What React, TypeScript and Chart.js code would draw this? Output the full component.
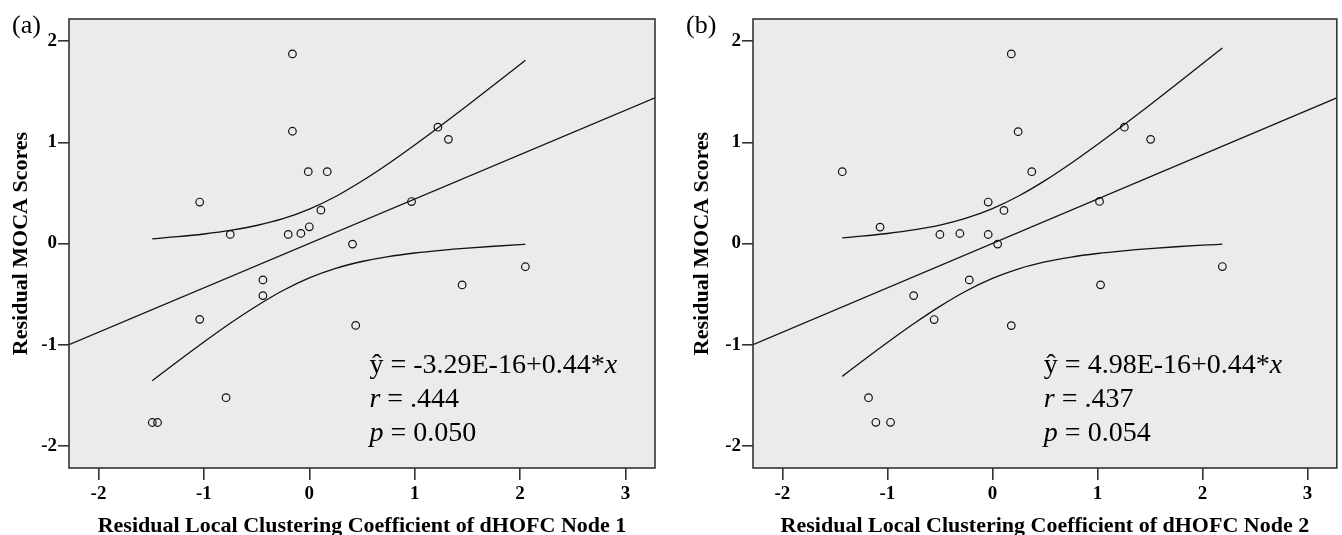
import React, { useEffect, useRef } from 'react';
import { Chart, registerables } from 'chart.js';

Chart.register(...registerables);

// ---------- data ----------
const xTicks = [-2, -1, 0, 1, 2, 3];
const yTicks = [-2, -1, 0, 1, 2];
const xRange = [-2.28, 3.28];
const yRange = [-2.22, 2.22];

// Panel (a): dHOFC Node 1
const node1X = [-0.16, -0.16, -0.01, 0.17, -1.04, 0.11, -0.75, -0.2, -0.08, 0.0, 1.22, 1.32, 0.97, 0.41, 2.05, 1.45, 0.44, -0.44, -0.44, -1.04, -0.79, -1.49, -1.44];
const node1Y = [1.875, 1.11, 0.71, 0.71, 0.41, 0.33, 0.09, 0.09, 0.1, 0.165, 1.15, 1.03, 0.415, -0.006, -0.23, -0.41, -0.81, -0.36, -0.515, -0.75, -1.525, -1.77, -1.77];

const fitX1 = [-2.28, 3.28];
const fitY1 = [-1.0, 1.44];

const ciX1 = [-1.49, -1.25, -1.0, -0.75, -0.5, -0.25, 0, 0.25, 0.5, 0.75, 1.0, 1.25, 1.5, 1.75, 2.0, 2.05];
const ciUpper1 = [0.046, 0.067, 0.094, 0.129, 0.178, 0.245, 0.34, 0.465, 0.618, 0.789, 0.974, 1.167, 1.365, 1.567, 1.771, 1.812];
const ciLower1 = [-1.357, -1.167, -0.974, -0.789, -0.618, -0.465, -0.34, -0.245, -0.178, -0.129, -0.094, -0.067, -0.045, -0.027, -0.011, -0.008];

// Panel (b): dHOFC Node 2
const node2X = [-1.43, -1.07, -0.5, -0.31, -0.04, -0.04, 0.11, 0.05, 0.18, 0.245, 0.375, 1.257, 1.507, 1.02, 2.19, 1.03, 0.18, -0.22, -0.75, -0.555, -1.18, -1.11, -0.97];
const node2Y = [0.71, 0.162, 0.089, 0.099, 0.089, 0.41, 0.327, -0.006, 1.875, 1.106, 0.71, 1.15, 1.03, 0.416, -0.228, -0.409, -0.812, -0.36, -0.515, -0.752, -1.525, -1.768, -1.768];

const fitX2 = [-2.28, 3.28];
const fitY2 = [-1.0, 1.44];

const ciX2 = [-1.43, -1.25, -1.0, -0.75, -0.5, -0.25, 0, 0.25, 0.5, 0.75, 1.0, 1.25, 1.5, 1.75, 2.0, 2.19];
const ciUpper2 = [0.056, 0.072, 0.099, 0.134, 0.182, 0.25, 0.345, 0.47, 0.622, 0.794, 0.979, 1.172, 1.37, 1.572, 1.777, 1.934];
const ciLower2 = [-1.314, -1.172, -0.979, -0.794, -0.622, -0.47, -0.345, -0.25, -0.182, -0.134, -0.099, -0.072, -0.05, -0.032, -0.017, -0.007];

const yTitle = 'Residual MOCA Scores';
const xTitle1 = 'Residual Local Clustering Coefficient of dHOFC Node 1';
const xTitle2 = 'Residual Local Clustering Coefficient of dHOFC Node 2';

const eq1 = '-3.29E-16+0.44*';
const r1 = '.444';
const p1 = ' = 0.050';
const eq2 = '4.98E-16+0.44*';
const r2 = '.437';
const p2 = '= 0.054';

// ---------- styling ----------
const SERIF = '"Liberation Serif", "Times New Roman", serif';
const PLOT_BG = '#ebebeb';
const FRAME = '#333333';

type Run = { text: string; italic?: boolean };

interface PanelSpec {
  label: string;
  xs: number[];
  ys: number[];
  fitX: number[];
  fitY: number[];
  ciX: number[];
  ciUp: number[];
  ciLo: number[];
  xTitle: string;
  annX: number;
  annY: number[];
  annLines: Run[][];
  yAxisWidth: number;
  yTitlePad: number;
  padRight: number;
  labelX: number;
}

const toPts = (xs: number[], ys: number[]) => xs.map((x, i) => ({ x, y: ys[i] }));

function buildConfig(p: PanelSpec): any {
  const panelPlugin = {
    id: 'panelDecor' + p.label,
    beforeDraw(chart: any) {
      const { ctx, chartArea: a } = chart;
      ctx.save();
      ctx.fillStyle = PLOT_BG;
      ctx.fillRect(a.left, a.top, a.right - a.left, a.bottom - a.top);
      ctx.restore();
    },
    afterDraw(chart: any) {
      const { ctx, chartArea: a, scales } = chart;
      ctx.save();
      ctx.strokeStyle = FRAME;
      ctx.lineWidth = 1.6;
      ctx.strokeRect(a.left, a.top, a.right - a.left, a.bottom - a.top);

      ctx.fillStyle = '#000';
      ctx.textBaseline = 'middle';
      ctx.textAlign = 'left';
      ctx.font = `26px ${SERIF}`;
      ctx.fillText(p.label, p.labelX, 26);

      const x0 = scales.x.getPixelForValue(p.annX);
      p.annLines.forEach((runs, i) => {
        const y = scales.y.getPixelForValue(p.annY[i]);
        let cx = x0;
        runs.forEach((r) => {
          ctx.font = `${r.italic ? 'italic ' : ''}28px ${SERIF}`;
          ctx.fillText(r.text, cx, y);
          cx += ctx.measureText(r.text).width;
        });
      });
      ctx.restore();
    },
  };

  const tickFont = { family: SERIF, size: 19, weight: 'bold' as const };
  const titleFont = { family: SERIF, size: 22, weight: 'bold' as const, lineHeight: 1.2 };

  return {
    type: 'scatter',
    data: {
      datasets: [
        {
          data: toPts(p.xs, p.ys),
          showLine: false,
          pointStyle: 'circle',
          pointRadius: 3.8,
          pointBorderWidth: 1.2,
          pointBorderColor: '#111',
          pointBackgroundColor: 'rgba(0,0,0,0)',
          order: 0,
        },
        {
          data: toPts(p.fitX, p.fitY),
          showLine: true,
          pointRadius: 0,
          borderColor: '#111',
          borderWidth: 1.3,
          order: 1,
        },
        {
          data: toPts(p.ciX, p.ciUp),
          showLine: true,
          pointRadius: 0,
          borderColor: '#111',
          borderWidth: 1.3,
          cubicInterpolationMode: 'monotone',
          order: 1,
        },
        {
          data: toPts(p.ciX, p.ciLo),
          showLine: true,
          pointRadius: 0,
          borderColor: '#111',
          borderWidth: 1.3,
          cubicInterpolationMode: 'monotone',
          order: 1,
        },
      ],
    },
    options: {
      responsive: false,
      animation: false,
      events: [],
      layout: { padding: { left: 0, right: p.padRight, top: 19, bottom: 0 } },
      plugins: {
        legend: { display: false },
        tooltip: { enabled: false },
      },
      scales: {
        x: {
          type: 'linear',
          min: xRange[0],
          max: xRange[1],
          afterBuildTicks: (s: any) => {
            s.ticks = xTicks.map((v) => ({ value: v }));
          },
          afterFit: (s: any) => {
            s.height = 67;
          },
          grid: {
            display: true,
            drawOnChartArea: false,
            drawTicks: true,
            tickLength: 12,
            color: FRAME,
            lineWidth: 1.6,
          },
          border: { display: false },
          ticks: {
            color: '#000',
            font: tickFont,
            padding: 3,
            maxRotation: 0,
            autoSkip: false,
            callback: (v: any) => String(v),
          },
          title: {
            display: true,
            text: p.xTitle,
            color: '#000',
            font: titleFont,
            padding: { top: 0, bottom: -5 },
          },
        },
        y: {
          type: 'linear',
          min: yRange[0],
          max: yRange[1],
          afterBuildTicks: (s: any) => {
            s.ticks = yTicks.map((v) => ({ value: v }));
          },
          afterFit: (s: any) => {
            s.width = p.yAxisWidth;
          },
          grid: {
            display: true,
            drawOnChartArea: false,
            drawTicks: true,
            tickLength: 11,
            color: FRAME,
            lineWidth: 1.6,
          },
          border: { display: false },
          ticks: {
            color: '#000',
            font: tickFont,
            padding: 1,
            autoSkip: false,
            callback: (v: any) => String(v),
          },
          title: {
            display: true,
            text: yTitle,
            color: '#000',
            font: titleFont,
            padding: { top: p.yTitlePad, bottom: 0 },
          },
        },
      },
    },
    plugins: [panelPlugin],
  };
}

const panelA: PanelSpec = {
  label: '(a)',
  xs: node1X,
  ys: node1Y,
  fitX: fitX1,
  fitY: fitY1,
  ciX: ciX1,
  ciUp: ciUpper1,
  ciLo: ciLower1,
  xTitle: xTitle1,
  annX: 0.57,
  annY: [-1.21, -1.545, -1.88],
  annLines: [
    [{ text: 'ŷ = ' + eq1 }, { text: 'x', italic: true }],
    [{ text: 'r', italic: true }, { text: ' = ' + r1 }],
    [{ text: 'p', italic: true }, { text: p1 }],
  ],
  yAxisWidth: 69,
  yTitlePad: 8,
  padRight: 16,
  labelX: 12,
};

const panelB: PanelSpec = {
  label: '(b)',
  xs: node2X,
  ys: node2Y,
  fitX: fitX2,
  fitY: fitY2,
  ciX: ciX2,
  ciUp: ciUpper2,
  ciLo: ciLower2,
  xTitle: xTitle2,
  annX: 0.49,
  annY: [-1.21, -1.545, -1.88],
  annLines: [
    [{ text: 'ŷ = ' + eq2 }, { text: 'x', italic: true }],
    [{ text: 'r', italic: true }, { text: ' = ' + r2 }],
    [{ text: 'p', italic: true }, { text: ' ' + p2 }],
  ],
  yAxisWidth: 82,
  yTitlePad: 18,
  padRight: 3,
  labelX: 15,
};

function Panel({ spec }: { spec: PanelSpec }) {
  const ref = useRef<HTMLCanvasElement | null>(null);
  useEffect(() => {
    if (!ref.current) return;
    const chart = new Chart(ref.current, buildConfig(spec));
    return () => chart.destroy();
  }, [spec]);
  return (
    <div style={{ width: 671, height: 535, position: 'relative' }}>
      <canvas ref={ref} width={671} height={535} style={{ display: 'block', width: 671, height: 535 }} />
    </div>
  );
}

export default function App() {
  return (
    <div
      style={{
        position: 'absolute',
        left: 0,
        top: 0,
        width: 1342,
        height: 535,
        display: 'flex',
        background: '#fff',
      }}
    >
      <Panel spec={panelA} />
      <Panel spec={panelB} />
    </div>
  );
}
